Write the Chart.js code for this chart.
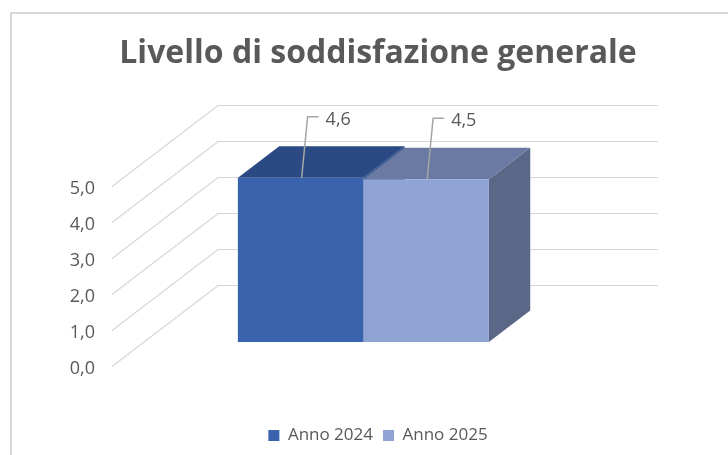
<!DOCTYPE html>
<html>
<head>
<meta charset="utf-8">
<script src="https://cdn.jsdelivr.net/npm/chart.js@4.4.0/dist/chart.umd.min.js"></script>
<style>
  html, body { margin: 0; padding: 0; background: #fff; }
</style>
</head>
<body>
<canvas id="chart" width="728" height="455"></canvas>
<script>
'use strict';

var chartTitle = 'Livello di soddisfazione generale';
var categories = [''];
var seriesNames = ['Anno 2024', 'Anno 2025'];
var anno2024 = [4.56];
var anno2025 = [4.52];
var yTicks = [0, 1, 2, 3, 4, 5];

var frontColors = ['#3a63ad', '#8fa3d5'];
var topColors = ['#2b4a84', '#6a7aa2'];
var sideColors = ['#2e4f8c', '#5a6787'];

// 3d look: offset from the front wall to the back wall
var depthX = 106;
var depthY = -81;
var barFront = 0.296; // where the bars start in the depth
var barDepth = 0.39;  // how deep the bars are

function fmt(v) {
  return v.toFixed(1).replace('.', ',');
}

function poly(ctx, pts) {
  ctx.beginPath();
  ctx.moveTo(pts[0][0], pts[0][1]);
  for (var i = 1; i < pts.length; i++) {
    ctx.lineTo(pts[i][0], pts[i][1]);
  }
  ctx.closePath();
  ctx.fill();
}

var box3d = {
  id: 'box3d',
  beforeDraw: function(chart) {
    var ctx = chart.ctx;
    ctx.save();
    ctx.strokeStyle = '#d9d9d9';
    ctx.lineWidth = 2;
    ctx.strokeRect(11, 13, 760, 480);
    ctx.restore();
  },
  beforeDatasetsDraw: function(chart) {
    var ctx = chart.ctx;
    var area = chart.chartArea;
    var y = chart.scales.y;
    ctx.save();
    ctx.strokeStyle = '#d6d6d6';
    ctx.lineWidth = 1.2;
    yTicks.forEach(function(v) {
      var py = Math.round(y.getPixelForValue(v)) + 0.5;
      ctx.beginPath();
      ctx.moveTo(area.left, py);
      ctx.lineTo(area.left + depthX, py + depthY);
      ctx.lineTo(area.right + depthX, py + depthY);
      ctx.stroke();
    });
    ctx.restore();
  },
  // bars are drawn by hand below as boxes
  beforeDatasetDraw: function() {
    return false;
  },
  afterDatasetsDraw: function(chart) {
    var ctx = chart.ctx;
    var fx = depthX * barFront, fy = depthY * barFront;
    var dx = depthX * barDepth, dy = depthY * barDepth;
    ctx.save();
    chart.data.datasets.forEach(function(ds, i) {
      var bar = chart.getDatasetMeta(i).data[0];
      var left = bar.x - bar.width / 2 + fx;
      var right = bar.x + bar.width / 2 + fx;
      var top = bar.y + fy;
      var bottom = bar.base + fy;
      ctx.fillStyle = sideColors[i];
      poly(ctx, [[right, top], [right + dx, top + dy], [right + dx, bottom + dy], [right, bottom]]);
      ctx.fillStyle = topColors[i];
      poly(ctx, [[left, top], [left + dx, top + dy], [right + dx, top + dy], [right, top]]);
      ctx.fillStyle = frontColors[i];
      ctx.fillRect(left, top, right - left, bottom - top);
    });
    // data labels with leader lines
    chart.data.datasets.forEach(function(ds, i) {
      var bar = chart.getDatasetMeta(i).data[0];
      var cx = bar.x + fx;
      var ty = bar.y + fy;
      var ky = ty - 61;
      ctx.strokeStyle = '#a6a6a6';
      ctx.lineWidth = 1.5;
      ctx.beginPath();
      ctx.moveTo(cx + 1, ty);
      ctx.lineTo(cx + 7, ky);
      ctx.lineTo(cx + 18, ky);
      ctx.stroke();
      ctx.fillStyle = '#595959';
      ctx.font = '18px "Open Sans"';
      ctx.textAlign = 'left';
      ctx.textBaseline = 'middle';
      ctx.fillText(fmt(ds.data[0]), cx + 25, ky + 3);
    });
    ctx.restore();
  }
};

var ctx = document.getElementById('chart').getContext('2d');
var chart = new Chart(ctx, {
  type: 'bar',
  data: {
    labels: categories,
    datasets: [{
      label: seriesNames[0],
      data: anno2024,
      backgroundColor: frontColors[0],
      categoryPercentage: 0.5705,
      barPercentage: 1
    }, {
      label: seriesNames[1],
      data: anno2025,
      backgroundColor: frontColors[1],
      categoryPercentage: 0.5705,
      barPercentage: 1
    }]
  },
  options: {
    responsive: false,
    animation: false,
    layout: { padding: { left: 28, right: 0, top: 10, bottom: 1 } },
    plugins: {
      title: {
        display: true,
        text: chartTitle,
        color: '#595959',
        font: { family: 'Open Sans', size: 32, weight: 'bold' },
        padding: { top: 25, bottom: 112.6 }
      },
      legend: {
        position: 'bottom',
        labels: {
          boxWidth: 11,
          boxHeight: 11,
          padding: 10,
          color: '#595959',
          font: { family: 'Open Sans', size: 17 }
        }
      },
      tooltip: { enabled: false }
    },
    scales: {
      x: {
        grid: { display: false, drawTicks: false },
        border: { display: false },
        ticks: { display: false },
        afterFit: function(s) { s.height = 51; }
      },
      y: {
        min: 0,
        max: 5,
        grid: { display: false, drawTicks: false },
        border: { display: false },
        ticks: {
          stepSize: 1,
          padding: 17,
          labelOffset: 3,
          color: '#595959',
          font: { family: 'Open Sans', size: 18 },
          callback: function(v) { return fmt(v); }
        },
        afterFit: function(s) { s.width = 84; }
      },
      y2: {
        position: 'right',
        grid: { display: false, drawTicks: false },
        border: { display: false },
        ticks: { display: false },
        afterFit: function(s) { s.width = 176; }
      }
    }
  },
  plugins: [box3d]
});
</script>
</body>
</html>
